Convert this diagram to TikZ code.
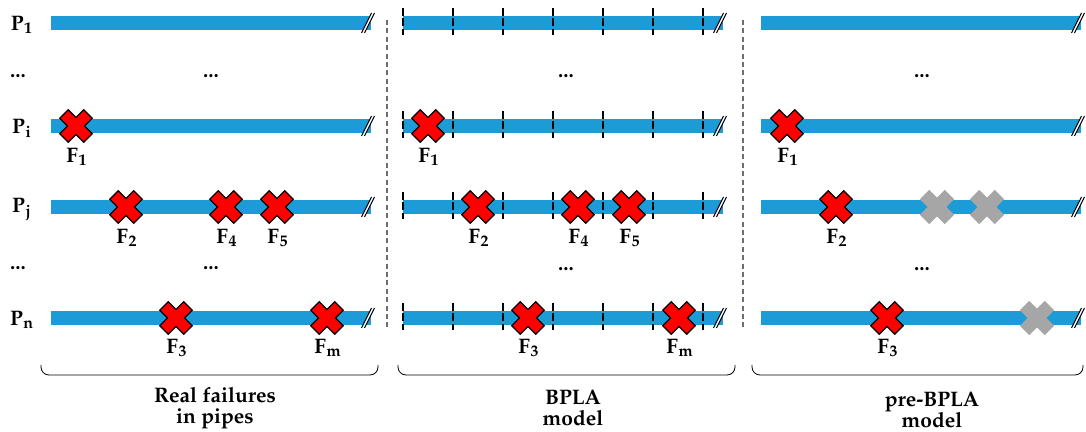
\documentclass[tikz,border=0pt]{standalone}
\usepackage{amsmath}
\usepackage[T1]{fontenc}
\usepackage{mathpazo}
\definecolor{pipeblue}{RGB}{29,155,215}
\definecolor{gonegray}{RGB}{166,166,166}
\definecolor{sepgray}{RGB}{110,110,110}
\begin{document}
\begin{tikzpicture}[x=0.5pt,y=-0.5pt,
    pipe/.style={draw=pipeblue, line width=7pt},
    cut/.style={dash pattern=on 4pt off 1.2pt, line width=0.8pt},
    sep/.style={draw=sepgray, dash pattern=on 2.5pt off 1.7pt, line width=0.6pt},
    lbl/.style={font=\fontsize{10.5}{10.5}\selectfont\bfseries, inner sep=0pt},
    fail/.style={fill=red, draw=black, line width=0.6pt},
    gone/.style={fill=gonegray, draw=gonegray, line width=0.6pt},
    failx/.pic={\path[pic actions, rotate=45] (6,17) -- (6,6) -- (17,6) -- (17,-6) -- (6,-6) -- (6,-17)
        -- (-6,-17) -- (-6,-6) -- (-17,-6) -- (-17,6) -- (-6,6) -- (-6,17) -- cycle;},
    brk/.pic={\draw[white, line width=1.2pt] (-5,10) -- (5,-10);
        \draw[line width=0.5pt] (-6.5,10) -- (3.5,-10);
        \draw[line width=0.5pt] (-3.5,10) -- (6.5,-10);}]
    \useasboundingbox (0,0) rectangle (1086,432);
    % separators
    \draw[sep] (387,20) -- (387,327);
    \draw[sep] (743,20) -- (743,327);
    % pipes
    \foreach \dx in {0,352,710}
      \foreach \y in {23,126,207,318} {
        \draw[pipe] (51+\dx,\y) -- (371+\dx,\y);
        \pic at (368+\dx,\y) {brk};
      }
    % BPLA segments
    \foreach \y in {23,126,207,318}
      \foreach \x in {403,453,...,703}
        \draw[cut] (\x,\y-15) -- (\x,\y+12);
    % pipe names
    \node[lbl] (p1) at (22,25) {$\mathbf{P_1}$};
    \node[lbl] (d1) at (18,76) {...};
    \node[lbl] (pi) at (22,128) {$\mathbf{P_i}$};
    \node[lbl] (pj) at (22,209) {$\mathbf{P_j}$};
    \node[lbl] (d2) at (18,268) {...};
    \node[lbl] (pn) at (22,320) {$\mathbf{P_n}$};
    \node[lbl] (d3) at (211,76) {...};
    \node[lbl] (d4) at (211,268) {...};
    \node[lbl] (d5) at (566,76) {...};
    \node[lbl] (d6) at (566,269) {...};
    \node[lbl] (d7) at (922,76) {...};
    \node[lbl] (d8) at (922,269) {...};
    % real failures
    \pic[fail] (ra) at (76,126) {failx};
    \pic[fail] (rb) at (126,207) {failx};
    \pic[fail] (rc) at (226,207) {failx};
    \pic[fail] (rd) at (277,207) {failx};
    \pic[fail] (re) at (176,318) {failx};
    \pic[fail] (rf) at (327,318) {failx};
    \node[lbl] (fa) at (77,157) {$\mathbf{F_1}$};
    \node[lbl] (fb) at (127,238) {$\mathbf{F_2}$};
    \node[lbl] (fc) at (227,238) {$\mathbf{F_4}$};
    \node[lbl] (fd) at (278,238) {$\mathbf{F_5}$};
    \node[lbl] (fe) at (177,348) {$\mathbf{F_3}$};
    \node[lbl] (ff) at (328,348) {$\mathbf{F_m}$};
    % BPLA model
    \pic[fail] (ba) at (428,126) {failx};
    \pic[fail] (bb) at (478,207) {failx};
    \pic[fail] (bc) at (578,207) {failx};
    \pic[fail] (bd) at (629,207) {failx};
    \pic[fail] (be) at (528,318) {failx};
    \pic[fail] (bf) at (679,318) {failx};
    \node[lbl] (ga) at (429,157) {$\mathbf{F_1}$};
    \node[lbl] (gb) at (479,238) {$\mathbf{F_2}$};
    \node[lbl] (gc) at (579,238) {$\mathbf{F_4}$};
    \node[lbl] (gd) at (630,238) {$\mathbf{F_5}$};
    \node[lbl] (ge) at (529,348) {$\mathbf{F_3}$};
    \node[lbl] (gf) at (680,348) {$\mathbf{F_m}$};
    % pre-BPLA model
    \pic[fail] (qa) at (787,126) {failx};
    \pic[fail] (qb) at (836,207) {failx};
    \pic[gone] (qc) at (937,207) {failx};
    \pic[gone] (qd) at (987,207) {failx};
    \pic[fail] (qe) at (887,318) {failx};
    \pic[gone] (qf) at (1037,318) {failx};
    \node[lbl] (ha) at (788,157) {$\mathbf{F_1}$};
    \node[lbl] (hb) at (837,238) {$\mathbf{F_2}$};
    \node[lbl] (he) at (888,348) {$\mathbf{F_3}$};
    % groups
    \draw[rounded corners=4pt] (41,365) -- (41,375) -- (378,375) -- (378,365);
    \draw[rounded corners=4pt] (398,365) -- (398,375) -- (735,375) -- (735,365);
    \draw[rounded corners=4pt] (752,365) -- (752,375) -- (1083,375) -- (1083,365);
    \node[lbl, align=center] (real) at (215,408) {Real failures\\in pipes};
    \node[lbl, align=center] (bpla) at (573,408) {BPLA\\model};
    \node[lbl, align=center] (pre) at (932,410) {pre-BPLA\\model};
\end{tikzpicture}
\end{document}
